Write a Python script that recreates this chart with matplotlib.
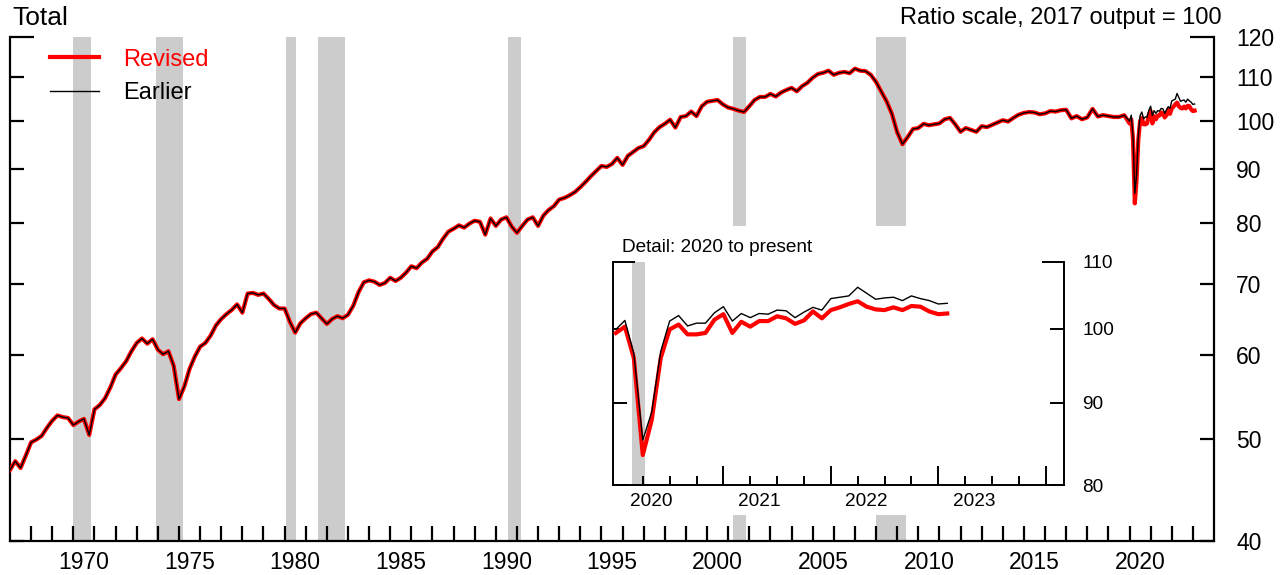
import numpy as np
import matplotlib
matplotlib.use("Agg")
import matplotlib.pyplot as plt
from matplotlib.patches import Rectangle
from matplotlib.ticker import NullLocator

plt.rcParams['font.family'] = ['Liberation Sans', 'DejaVu Sans']

RED = '#ff0000'
GREY = '#cccccc'

# quarterly index, 2017 output = 100 (both vintages coincide before 2020)
years_q = np.arange(1967, 2020)
total_60s = [46.7, 47.6, 46.9, 48.2,  49.6, 49.9, 50.3, 51.2,  52.0, 52.6, 52.4, 52.3]
total_70s = [51.5, 51.9, 52.2, 50.4,  53.3, 53.8, 54.6, 55.9,  57.5, 58.3, 59.2, 60.5,
             61.6, 62.2, 61.5, 62.1,  60.7, 60.1, 60.5, 58.6,  54.5, 56.0, 58.2, 59.8,
             61.1, 61.6, 62.6, 64.0,  64.9, 65.6, 66.2, 67.0,  65.8, 68.6, 68.7, 68.4,
             68.6, 67.8, 66.9, 66.4]
total_80s = [66.4, 64.5, 63.0, 64.3,  65.0, 65.6, 65.8, 65.0,  64.2, 64.9, 65.3, 65.0,
             65.5, 66.8, 68.8, 70.3,  70.6, 70.4, 69.9, 70.2,  71.0, 70.5, 71.0, 71.8,
             72.8, 72.5, 73.4, 74.0,  75.2, 75.9, 77.3, 78.5,  79.0, 79.6, 79.2, 79.9,
             80.4, 80.2, 78.0, 80.8]
total_90s = [79.5, 80.6, 81.0, 79.4,  78.3, 79.5, 80.6, 81.0,  79.5, 81.3, 82.3, 83.0,
             84.2, 84.5, 85.0, 85.6,  86.5, 87.5, 88.6, 89.6,  90.6, 90.4, 91.0, 92.2,
             90.8, 92.6, 93.4, 94.2,  94.6, 95.9, 97.5, 98.6,  99.3, 100.2, 98.5, 100.8,
             101.0, 102.0, 101.0, 103.2]
total_00s = [104.2, 104.4, 104.6, 103.6,  102.9, 102.6, 102.2, 101.9,  103.2, 104.6, 105.3, 105.3,
             106.0, 105.4, 106.3, 106.9,  107.4, 106.6, 107.8, 108.6,  109.8, 110.7, 111.0, 111.5,
             110.5, 111.0, 111.2, 110.9,  112.0, 111.5, 111.4, 110.5,  108.8, 106.5, 104.3, 101.5,
             97.5, 95.0, 96.5, 98.2]
total_10s = [98.4, 99.3, 99.0, 99.2,  99.4, 100.3, 100.6, 99.2,  97.6, 98.4, 98.0, 97.6,
             98.8, 98.6, 99.1, 99.6,  100.1, 99.8, 100.6, 101.3,  101.7, 101.9, 101.8, 101.4,
             101.6, 102.1, 102.0, 102.3,  102.4, 100.5, 101.0, 100.3,  100.7, 102.6, 100.9, 101.2,
             101.0, 100.8, 100.8, 101.2]

# monthly, Jan 2020 - Feb 2023
revised_m = [99.4, 100.3, 95.9, 83.5, 87.8, 95.9, 99.9, 100.6, 99.2, 99.2, 99.4, 101.3,
             102.1, 99.4, 101.0, 100.3, 101.1, 101.1, 101.8, 101.5, 100.7, 101.2, 102.5, 101.5,
             102.7, 103.1, 103.6, 104.0, 103.2, 102.8, 102.7, 103.1, 102.7, 103.3, 103.2, 102.5,
             102.1, 102.2]
earlier_m = [99.9, 101.2, 96.5, 85.3, 88.8, 96.8, 101.1, 101.9, 100.4, 100.8, 100.8, 102.3,
             103.2, 101.1, 102.2, 101.6, 102.2, 102.1, 102.7, 102.6, 101.6, 102.4, 103.1, 102.7,
             104.4, 104.6, 104.8, 106.1, 105.2, 104.3, 104.5, 104.6, 104.1, 104.8, 104.4, 104.1,
             103.6, 103.7]

# NBER recessions (peak year, month, trough year, month)
recessions = [(1969, 12, 1970, 11), (1973, 11, 1975, 3), (1980, 1, 1980, 7),
              (1981, 7, 1982, 11), (1990, 7, 1991, 3), (2001, 3, 2001, 11),
              (2007, 12, 2009, 6), (2020, 2, 2020, 4)]

main_ticks = [40, 50, 60, 70, 80, 90, 100, 110, 120]
main_labels = [1970, 1975, 1980, 1985, 1990, 1995, 2000, 2005, 2010, 2015, 2020]
inset_ticks = [80, 90, 100, 110]
inset_labels = [2020, 2021, 2022, 2023]

revised_q = np.array(total_60s + total_70s + total_80s + total_90s + total_00s + total_10s)
earlier_q = revised_q
q_dates = np.repeat(years_q, 4) + np.tile([0, .25, .5, .75], len(years_q))
m_dates = 2020 + np.arange(len(revised_m)) / 12

dates = np.concatenate([q_dates, m_dates])
revised = np.concatenate([revised_q, revised_m])
earlier = np.concatenate([earlier_q, earlier_m])


def span(r):
    return r[0] + (r[1] - 0.25) / 12, r[2] + (r[3] - 0.75) / 12


W, H = 1286, 575
fig = plt.figure(figsize=(W / 100, H / 100), dpi=100)

ax = fig.add_axes([10 / W, 34 / H, 1204 / W, 504 / H])
for r in recessions[:-1]:
    a, b = span(r)
    ax.axvspan(a, b, color=GREY, lw=0, zorder=0)
ax.plot(dates, revised, color=RED, lw=3, label='Revised', zorder=3)
ax.plot(dates, earlier, color='black', lw=1, label='Earlier', zorder=4)

ax.set_yscale('log')
ax.set_ylim(40, 120)
ax.set_xlim(1967, 2024)
ax.spines['top'].set_visible(False)
for s in ['left', 'right', 'bottom']:
    ax.spines[s].set_linewidth(1.6)

ax.set_yticks(main_ticks, labels=[str(v) for v in main_ticks])
ax.yaxis.set_minor_locator(NullLocator())
ax.tick_params(axis='y', which='major', direction='in', left=True, right=True,
               labelleft=False, labelright=True, length=10, width=1.6,
               labelsize=16.5, pad=16)
t = ax.yaxis.get_major_ticks()[-1]
t.tick1line.set_markersize(17)
t.tick2line.set_markersize(17)

ax.set_xticks(np.array(main_labels) + 0.5, labels=[str(v) for v in main_labels])
ax.set_xticks(np.arange(1968, 2024), minor=True)
ax.tick_params(axis='x', which='major', length=0, labelsize=16.5, pad=7)
ax.tick_params(axis='x', which='minor', direction='in', length=11, width=1.6)

ax.legend(loc='upper left', bbox_to_anchor=(0.033, 0.977), frameon=False,
          fontsize=17, handlelength=2.1, handletextpad=1.0, labelcolor='linecolor',
          borderaxespad=0, borderpad=0, labelspacing=0.5)

fig.text(12 / W, 1 - 18 / H, 'Total', fontsize=19, va='center', ha='left')
fig.text(1222 / W, 1 - 18 / H, 'Ratio scale, 2017 output = 100', fontsize=17,
         va='center', ha='right')

# white panel behind the detail chart
fig.add_artist(Rectangle((600 / W, 60 / H), 510 / W, 289 / H, transform=fig.transFigure,
                         facecolor='white', edgecolor='none', zorder=1))

ax_in = fig.add_axes([612.7 / W, 90 / H, 451.3 / W, 223 / H], zorder=2)
a, b = span(recessions[-1])
ax_in.axvspan(a, b, color=GREY, lw=0, zorder=0)
ax_in.plot(m_dates, revised_m, color=RED, lw=3, zorder=3)
ax_in.plot(m_dates, earlier_m, color='black', lw=1, zorder=4)

ax_in.set_yscale('log')
ax_in.set_ylim(80, 110)
ax_in.set_xlim(2019.97, 2024.17)
ax_in.spines['top'].set_visible(False)
for s in ['left', 'right', 'bottom']:
    ax_in.spines[s].set_linewidth(1.4)

ax_in.set_yticks(inset_ticks, labels=[str(v) for v in inset_ticks])
ax_in.yaxis.set_minor_locator(NullLocator())
ax_in.tick_params(axis='y', which='major', direction='in', left=True, right=True,
                  labelleft=False, labelright=True, length=10, width=1.4,
                  labelsize=13.7, pad=13)
t = ax_in.yaxis.get_major_ticks()[-1]
t.tick1line.set_markersize(16)
t.tick2line.set_markersize(16)

quarters = np.arange(2020.25, 2024.01, 0.25)
ax_in.set_xticks(np.array(inset_labels) + 1 / 3, labels=[str(v) for v in inset_labels])
ax_in.set_xticks(quarters, minor=True)
ax_in.tick_params(axis='x', which='major', length=0, labelsize=13.7, pad=6)
ax_in.tick_params(axis='x', which='minor', direction='in', length=6.5, width=1.4)
for q, tk in zip(quarters, ax_in.xaxis.get_minor_ticks()):
    if q % 1 == 0:
        tk.tick1line.set_markersize(13.7)

ax_in.text(0.02, 1.065, 'Detail: 2020 to present', transform=ax_in.transAxes,
           fontsize=13.7, va='center', ha='left')

fig.savefig('out.png', dpi=100)
